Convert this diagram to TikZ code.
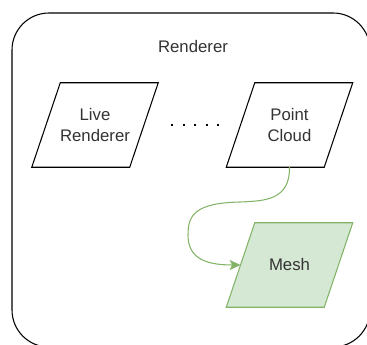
\documentclass[tikz,border=0pt]{standalone}
\usepackage{fontspec}
\setmainfont{Liberation Sans}
\definecolor{meshfill}{HTML}{D5E8D4}
\definecolor{meshline}{HTML}{82B366}
\definecolor{textgray}{HTML}{333333}
\usetikzlibrary{arrows.meta, shapes.geometric, positioning, backgrounds}

\tikzset{
	labeltext/.style={text=textgray, font=\fontsize{14.3}{17.2}\selectfont},
	datablock/.style={labeltext, minimum width=3.78cm, minimum height=2.52cm,
		inner sep=0pt, align=center},
	plainslant/.style={line width=0.9pt, line join=miter, draw=black},
	meshslant/.style={line width=0.9pt, line join=miter, draw=meshline, fill=meshfill},
}

\begin{document}
\begin{tikzpicture}[x=0.03cm, y=-0.03cm]
	\useasboundingbox (0,0) rectangle (367,345);
	\draw[line width=0.9pt, rounded corners=1.11cm] (12,13) rectangle (370,347);
	\node[labeltext] (title) at (193,47) {Renderer};

	\node[datablock] (live) at (95,125) {Live\\Renderer};
	\node[datablock] (cloud) at (289.5,125) {Point\\Cloud};
	\node[datablock] (mesh) at (289.5,265) {Mesh};

	% slanted outlines behind the labels
	\begin{scope}[on background layer]
		\foreach \n/\st in {live/plainslant, cloud/plainslant, mesh/meshslant}
			\path[\st] ([xshift=0.855cm]\n.north west) -- (\n.north east)
				-- ([xshift=-0.855cm]\n.south east) -- (\n.south west) -- cycle;
	\end{scope}
	\coordinate (mesh in) at ([xshift=0.43cm]mesh.west);

	\draw[line width=2pt, dash pattern=on 0.06cm off 0.285cm,
		shorten <=0.39cm, shorten >=0.22cm] (live.east) -- (cloud.west);

	\draw[meshline, line width=0.9pt,
		-{Stealth[length=0.33cm, width=0.3cm, inset=0.08cm]}]
		(cloud.south) .. controls (290,200) and (265,201) .. (240,202)
		.. controls (195,203) and (188,215) .. (188,235)
		.. controls (188,258) and (205,265) .. (mesh in);
\end{tikzpicture}
\end{document}
